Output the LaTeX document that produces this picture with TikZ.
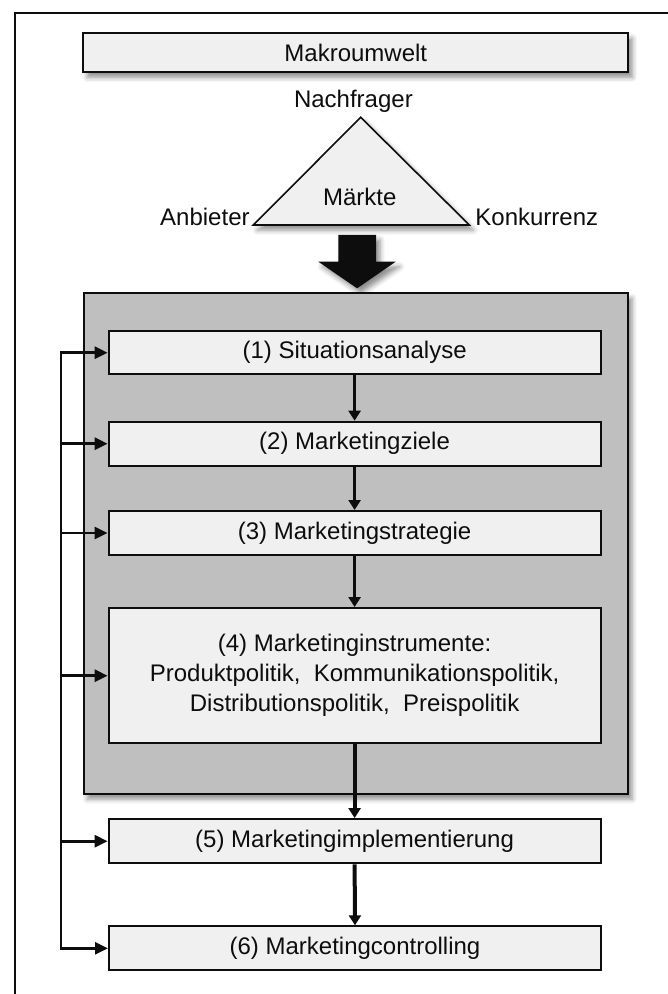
\documentclass[tikz,border=0pt]{standalone}
\usepackage{fontspec}
\setmainfont{Liberation Sans}
\usetikzlibrary{arrows.meta,shadows.blur}

\definecolor{boxfill}{HTML}{F0F0F0}
\definecolor{panelfill}{HTML}{BFBFBF}
\definecolor{ink}{HTML}{0D0D0D}

\begin{document}
\begin{tikzpicture}[x=0.5pt,y=-0.5pt,
  font=\fontsize{12}{15}\selectfont,
  every node/.style={text=ink},
  softshadow/.style={blur shadow={shadow xshift=2pt, shadow yshift=-2.5pt,
      shadow blur radius=2.5pt, shadow opacity=45}},
  stepbox/.style={draw=ink, line width=1pt, fill=boxfill,
      minimum width=246pt, minimum height=22pt, inner sep=0pt, align=center},
  flow/.style={draw=ink, line width=1.5pt, -{Triangle[length=5pt,width=6pt]}},
  heavyflow/.style={flow, line width=2pt},
  fbline/.style={draw=ink, line width=1.4pt,
      {Triangle[length=6.5pt,width=6pt]}-{Triangle[length=6.5pt,width=6pt]}},
  fbarrow/.style={draw=ink, line width=1.4pt, -{Triangle[length=6.5pt,width=6pt]}}
]
\useasboundingbox (0,0) rectangle (668,994);

% page frame (top and left edges)
\draw[ink, line width=1pt] (14.7,994) -- (14.7,13.3) -- (668,13.3);

% macro environment
\node[stepbox, softshadow, minimum width=272.5pt, minimum height=19.5pt]
  (makro) at (355.8,52.8) {Makroumwelt};

% market triangle
\coordinate (apex) at (360.7,117.3);
\coordinate (tl) at (253.3,225);
\coordinate (tr) at (469.3,225);
\filldraw[fill=boxfill, draw=ink, line width=0.8pt, softshadow]
  (apex) -- (tl) -- (tr) -- cycle;
\node[anchor=base] (maerkte) at (359.7,206) {Märkte};
\node[anchor=base] (nachfrager) at (353.4,108) {Nachfrager};
\node[anchor=base east, inner sep=0pt] (anbieter) at (250,226) {Anbieter};
\node[anchor=base west, inner sep=0pt] (konkurrenz) at (475,226) {Konkurrenz};

% block arrow into the planning panel
\fill[ink, softshadow] (338.3,235) -- (376,235) -- (376,261.7) -- (395.7,261.7)
  -- (357.1,288.3) -- (318.3,261.7) -- (338.3,261.7) -- cycle;

% planning panel
\node[draw=ink, line width=1pt, fill=panelfill, softshadow,
  minimum width=272.25pt, minimum height=250.35pt, inner sep=0pt]
  (panel) at (355.8,543.7) {};

% process steps
\node[stepbox, minimum height=21.65pt] (b1) at (354.6,352.7) {(1) Situationsanalyse};
\node[stepbox] (b2) at (354.6,443.7) {(2) Marketingziele};
\node[stepbox] (b3) at (354.6,533) {(3) Marketingstrategie};
\node[stepbox, minimum height=67.65pt] (b4) at (354.6,675.7)
  {(4) Marketinginstrumente:\\
   Produktpolitik,\ \ Kommunikationspolitik,\\
   Distributionspolitik,\ \ Preispolitik};
\node[stepbox, minimum height=22.15pt] (b5) at (354.6,841.2) {(5) Marketingimplementierung};
\node[stepbox] (b6) at (355,948.3) {(6) Marketingcontrolling};

% sequence arrows
\draw[flow] (b1.south) -- (b2.north);
\draw[flow] (b2.south) -- (b3.north);
\draw[flow, line width=1.7pt] (b3.south) -- (b4.north);
\draw[heavyflow] (b4.south) -- (b5.north);
\draw[heavyflow] (b5.south) -- (b6.north);

% feedback loop
\coordinate (fbx) at (61,0);
\draw[fbline] (b1.west) -- (b1.west -| fbx) -- (b6.west -| fbx) -- (b6.west);
\foreach \k in {2,...,5}
  \draw[fbarrow] (b\k.west -| fbx) -- (b\k.west);
\end{tikzpicture}
\end{document}
